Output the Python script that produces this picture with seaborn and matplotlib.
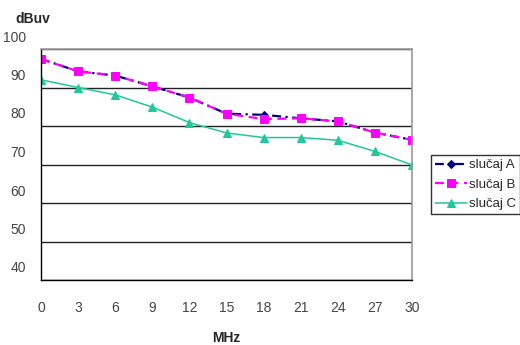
import numpy as np
import pandas as pd
import seaborn as sns
import matplotlib.pyplot as plt
import matplotlib.transforms as mtransforms

# -------------------------------
# Data
# -------------------------------
mhz = [0, 3, 6, 9, 12, 15, 18, 21, 24, 27, 30]
slucaj_a = [97.4, 94.2, 93.1, 90.3, 87.4, 83.2, 82.9, 82.0, 81.2, 78.3, 76.4]
slucaj_b = [97.4, 94.2, 93.1, 90.3, 87.4, 83.2, 81.8, 82.0, 81.2, 78.3, 76.4]
slucaj_c = [92.0, 90.0, 88.1, 84.9, 80.9, 78.2, 77.0, 77.0, 76.3, 73.4, 69.9]
y_ticks = [40, 50, 60, 70, 80, 90, 100]

df = pd.DataFrame({'MHz': mhz, 'slučaj A': slucaj_a,
                   'slučaj B': slucaj_b, 'slučaj C': slucaj_c})

# -------------------------------
# Style
# -------------------------------
sns.set_style('white')
plt.rcParams['font.family'] = ['Liberation Sans', 'DejaVu Sans']

fig = plt.figure(figsize=(5.2, 3.45), dpi=100)
ax = fig.add_axes([41 / 520, 65 / 345, 371 / 520, 231 / 345])

sns.lineplot(data=df, x='MHz', y='slučaj A', ax=ax, color='#000080',
             linestyle=(0, (4, 2, 1, 2)), lw=1.6, marker='D', markersize=4,
             markeredgecolor='#000080', label='slučaj A')
sns.lineplot(data=df, x='MHz', y='slučaj B', ax=ax, color='#FF00FF',
             linestyle=(0, (4, 2.5)), lw=1.6, marker='s', markersize=6,
             markeredgecolor='#FF00FF', label='slučaj B')
sns.lineplot(data=df, x='MHz', y='slučaj C', ax=ax, color='#1FC99A',
             linestyle='-', lw=1.1, marker='^', markersize=6,
             markeredgecolor='#1FC99A', label='slučaj C')

# -------------------------------
# Axes
# -------------------------------
ax.set_xlim(0, 30)
ax.set_ylim(40, 100)
ax.set_xticks(mhz)
ax.set_yticks(y_ticks)
ax.yaxis.grid(True, color='#222222', lw=1.0)
ax.xaxis.grid(False)
ax.set_axisbelow(True)

for side in ['left', 'bottom']:
    ax.spines[side].set_color('black')
    ax.spines[side].set_linewidth(1.0)
for side in ['top', 'right']:
    ax.spines[side].set_color('#9a9a9a')
    ax.spines[side].set_linewidth(1.2)

ax.tick_params(axis='x', direction='inout', length=8, width=1,
               color='black', pad=11, labelsize=10, labelcolor='#444444')
ax.tick_params(axis='y', direction='out', length=3, width=1,
               color='black', pad=8, labelsize=10, labelcolor='#444444')

# Y labels sit above their gridlines in the original
offset = mtransforms.ScaledTranslation(0, 13 / 100, fig.dpi_scale_trans)
for lab in ax.get_yticklabels():
    lab.set_transform(lab.get_transform() + offset)

ax.set_xlabel('MHz', fontsize=10, fontweight='bold', labelpad=12)
ax.set_ylabel('')
fig.text(15 / 520, 1 - 19 / 345, 'dBuv', fontsize=10, fontweight='bold',
         va='center', ha='left')

# -------------------------------
# Legend
# -------------------------------
ax.get_legend().remove()
handles, labels = ax.get_legend_handles_labels()
leg = fig.legend(handles, labels, loc='upper left',
                 bbox_to_anchor=(431 / 520, 1 - 155 / 345),
                 fontsize=9.5, frameon=True, fancybox=False,
                 edgecolor='black', borderpad=0.3, labelspacing=0.55,
                 handlelength=2.4, handletextpad=0.15, borderaxespad=0)
leg.get_frame().set_linewidth(1.0)

plt.savefig('out.png', dpi=100)
